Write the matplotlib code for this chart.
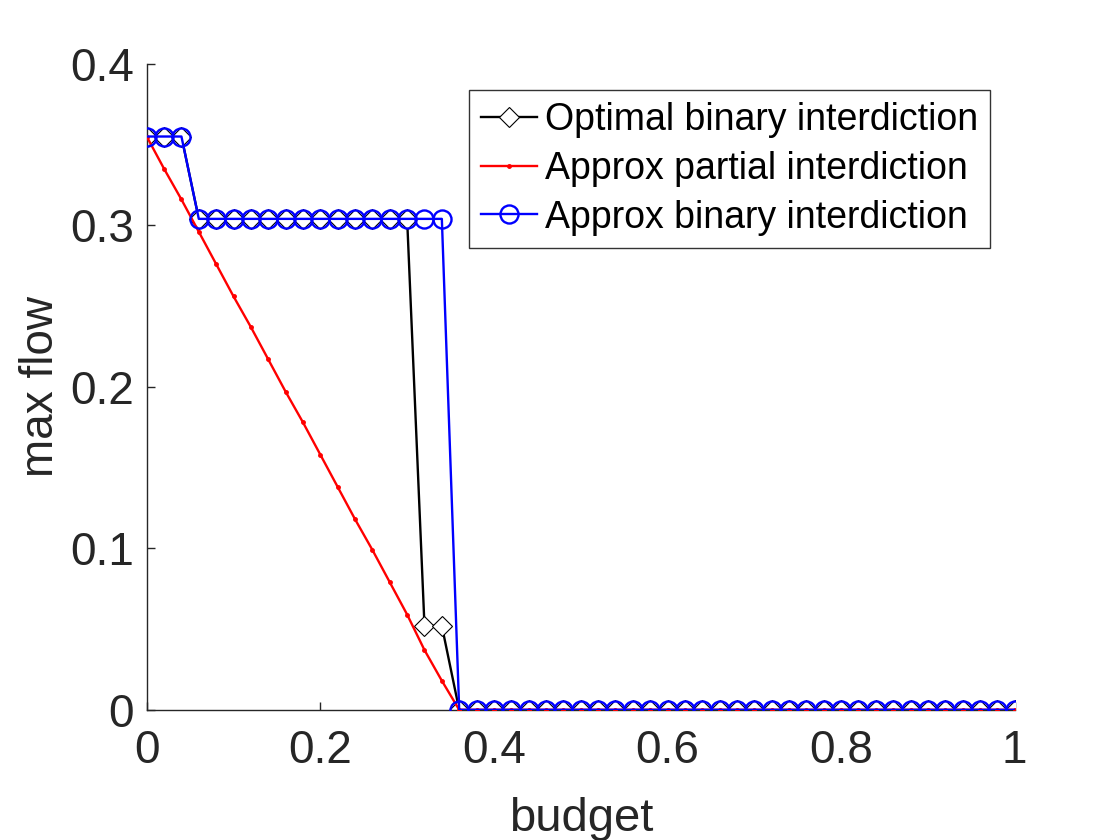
import matplotlib
matplotlib.use("Agg")
import matplotlib.pyplot as plt

budget = [round(0.02 * i, 2) for i in range(51)]

optimal_binary = [0.355, 0.355, 0.355] + [0.304] * 13 + [0.052, 0.052] + [0.0] * 33
approx_partial = [0.355, 0.335, 0.316, 0.296, 0.276, 0.256, 0.237, 0.217, 0.197,
                  0.178, 0.158, 0.138, 0.118, 0.099, 0.079, 0.059, 0.037, 0.018] + [0.0] * 33
approx_binary = [0.355, 0.355, 0.355] + [0.304] * 15 + [0.0] * 33

labels = ["Optimal binary interdiction", "Approx partial interdiction", "Approx binary interdiction"]

txt = "#262626"
plt.rcParams['font.family'] = ['Liberation Sans', 'DejaVu Sans']

fig = plt.figure(figsize=(11.2, 8.4), dpi=100)
ax = fig.add_axes([0.131, 0.155, 0.775, 0.769])

ax.plot(budget, optimal_binary, color="black", lw=1.7, marker="D", markersize=10.5,
        mfc="white", mec="black", mew=0.8, label=labels[0], zorder=2)
ax.plot(budget, approx_partial, color="red", lw=1.7, marker=".", markersize=5,
        label=labels[1], zorder=3)
ax.plot(budget, approx_binary, color="blue", lw=1.7, marker="o", markersize=13,
        mfc="none", mec="blue", mew=1.7, label=labels[2], zorder=4)

ax.set_xlim(0, 1)
ax.set_ylim(0, 0.4)
ax.set_xticks([0, 0.2, 0.4, 0.6, 0.8, 1])
ax.set_xticklabels(["0", "0.2", "0.4", "0.6", "0.8", "1"])
ax.set_yticks([0, 0.1, 0.2, 0.3, 0.4])
ax.set_yticklabels(["0", "0.1", "0.2", "0.3", "0.4"])

for s in ["top", "right"]:
    ax.spines[s].set_visible(False)
for s in ["left", "bottom"]:
    ax.spines[s].set_color(txt)
    ax.spines[s].set_linewidth(1.0)

ax.tick_params(direction="in", length=6, width=1.0, colors=txt, labelsize=33)
ax.tick_params(axis="x", pad=14)
ax.tick_params(axis="y", pad=9)
ax.set_xlabel("budget", fontsize=34, color=txt, labelpad=17)
ax.set_ylabel("max flow", fontsize=33, color=txt, labelpad=5)

leg = ax.legend(loc="upper right", bbox_to_anchor=(990 / 1120, 1 - 90 / 840),
                bbox_transform=fig.transFigure, fontsize=27, frameon=True,
                fancybox=False, edgecolor="black", handlelength=1.5,
                handletextpad=0.2, borderpad=0.32, labelspacing=0.34,
                borderaxespad=0)
leg.get_frame().set_linewidth(1.0)

fig.savefig("out.png", dpi=100)
